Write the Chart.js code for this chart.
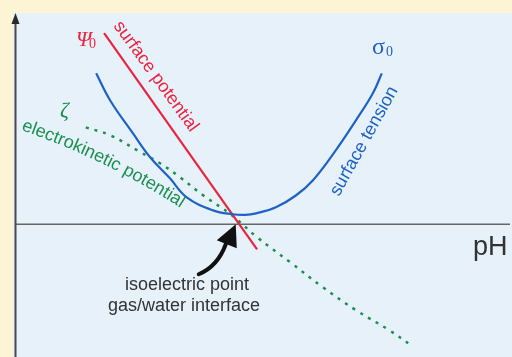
<!DOCTYPE html>
<html>
<head>
<meta charset="utf-8">
<script src="https://cdn.jsdelivr.net/npm/chart.js@4/dist/chart.umd.min.js"></script>
<style>
  html, body { margin: 0; padding: 0; background: #fdf3d5; }
  #wrap { width: 512px; height: 357px; }
</style>
</head>
<body>
<div id="wrap"><canvas id="chart"></canvas></div>
<script>
// pH axis (schematic, no tick labels)
const phMin = 0, phMax = 10;
const valMin = -4.4, valMax = 7.0;
const isoPH = 4.5;

// surface tension sigma0
const tensionPH = [1.64, 1.92, 2.38, 2.73, 3.13, 3.47, 4.00, 4.40, 4.65, 4.87, 5.27, 5.68, 6.02, 6.48, 6.89, 7.23, 7.41];
const tensionVal = [5.00, 4.11, 3.02, 2.22, 1.52, 0.89, 0.46, 0.33, 0.31, 0.36, 0.56, 0.96, 1.46, 2.45, 3.45, 4.34, 5.00];

// surface potential psi0 (straight line)
const potentialPH = [1.80, 4.89];
const potentialVal = [6.33, -0.83];

// electrokinetic potential zeta
const zetaPH = [1.43, 1.92, 2.53, 2.93, 3.33, 3.80, 4.38, 4.89, 5.56, 6.22, 6.89, 7.56, 8.00];
const zetaVal = [3.21, 2.95, 2.39, 2.02, 1.56, 0.96, 0.30, -0.43, -1.26, -2.09, -2.85, -3.51, -4.01];

const RED = "#ea2540", BLUE = "#1f62c6", GREEN = "#1c8f50", DARK = "#333333";

function pts(xs, ys) {
  return xs.map((x, i) => ({ x: x, y: ys[i] }));
}

// texte le long d'une courbe douce (angle qui varie)
function textAlong(ctx, str, x, y, a0, a1) {
  const total = ctx.measureText(str).width;
  let pos = 0;
  for (const ch of str) {
    const cw = ctx.measureText(ch).width;
    const a = (a0 + (a1 - a0) * ((pos + cw / 2) / total)) * Math.PI / 180;
    ctx.save();
    ctx.translate(x, y);
    ctx.rotate(a);
    ctx.fillText(ch, 0, 0);
    ctx.restore();
    x += cw * Math.cos(a);
    y += cw * Math.sin(a);
    pos += cw;
  }
}

const decor = {
  id: "decor",
  beforeDraw(chart) {
    const ctx = chart.ctx;
    ctx.save();
    ctx.fillStyle = "#fdf3d5";
    ctx.fillRect(0, 0, chart.width, chart.height);
    ctx.fillStyle = "#e6f1fa";
    ctx.fillRect(13, 13, chart.width - 13, chart.height - 13);
    ctx.restore();
  },
  beforeDatasetsDraw(chart) {
    const ctx = chart.ctx, a = chart.chartArea;
    const y0 = chart.scales.y.getPixelForValue(0);
    ctx.save();
    // horizontal pH axis
    ctx.strokeStyle = "#666666";
    ctx.lineWidth = 1.5;
    ctx.beginPath();
    ctx.moveTo(a.left, y0);
    ctx.lineTo(a.right, y0);
    ctx.stroke();
    // vertical axis with arrow
    ctx.strokeStyle = "#4a4a4a";
    ctx.lineWidth = 2;
    ctx.beginPath();
    ctx.moveTo(a.left + 0.5, a.bottom);
    ctx.lineTo(a.left + 0.5, a.top + 10);
    ctx.stroke();
    ctx.fillStyle = "#2a2a2a";
    ctx.beginPath();
    ctx.moveTo(a.left + 0.5, a.top);
    ctx.lineTo(a.left + 4.5, a.top + 11);
    ctx.lineTo(a.left - 3.5, a.top + 11);
    ctx.closePath();
    ctx.fill();
    ctx.restore();
  },
  afterDatasetsDraw(chart) {
    const ctx = chart.ctx;
    const tipX = chart.scales.x.getPixelForValue(isoPH) - 2;
    const tipY = chart.scales.y.getPixelForValue(0);
    ctx.save();
    ctx.textBaseline = "alphabetic";
    ctx.font = "18px 'Liberation Sans', Arial, sans-serif";

    // surface potential
    ctx.fillStyle = RED;
    ctx.save();
    ctx.translate(113, 26);
    ctx.rotate(54 * Math.PI / 180);
    ctx.fillText("surface potential", 0, 0);
    ctx.restore();

    // surface tension
    ctx.fillStyle = BLUE;
    ctx.save();
    ctx.translate(339, 197);
    ctx.rotate(-61 * Math.PI / 180);
    ctx.fillText("surface tension", 0, 0);
    ctx.restore();

    // electrokinetic potential
    ctx.fillStyle = GREEN;
    textAlong(ctx, "electrokinetic potential", 21, 130, 19, 33);

    // greek symbols
    ctx.fillStyle = RED;
    ctx.font = "italic 22px 'Liberation Serif', serif";
    ctx.fillText("Ψ", 76, 46);
    ctx.font = "14px 'Liberation Serif', serif";
    ctx.fillText("0", 89, 48);

    ctx.fillStyle = BLUE;
    ctx.font = "24px 'Liberation Serif', serif";
    ctx.fillText("σ", 372, 54);
    ctx.font = "14px 'Liberation Serif', serif";
    ctx.fillText("0", 386, 56);

    ctx.fillStyle = GREEN;
    ctx.font = "italic 22px 'Liberation Serif', serif";
    ctx.fillText("ζ", 60, 117);

    // pH
    ctx.fillStyle = DARK;
    ctx.font = "27px 'Liberation Sans', Arial, sans-serif";
    ctx.fillText("pH", 473, 255);

    // isoelectric point note
    ctx.font = "18px 'Liberation Sans', Arial, sans-serif";
    ctx.textAlign = "center";
    ctx.fillText("isoelectric point", 187, 290);
    ctx.fillText("gas/water interface", 184, 311);

    // curved arrow
    ctx.strokeStyle = "#111";
    ctx.fillStyle = "#111";
    ctx.lineWidth = 4;
    ctx.lineCap = "round";
    ctx.beginPath();
    ctx.moveTo(tipX - 37, tipY + 50);
    ctx.quadraticCurveTo(tipX - 18, tipY + 42, tipX - 10, tipY + 20);
    ctx.stroke();
    ctx.beginPath();
    ctx.moveTo(tipX, tipY);
    ctx.lineTo(tipX - 19, tipY + 16);
    ctx.lineTo(tipX + 1, tipY + 24);
    ctx.closePath();
    ctx.fill();
    ctx.restore();
  }
};

new Chart(document.getElementById("chart"), {
  type: "scatter",
  data: {
    datasets: [
      {
        label: "surface tension",
        data: pts(tensionPH, tensionVal),
        showLine: true,
        borderColor: BLUE,
        borderWidth: 2.2,
        pointRadius: 0,
        tension: 0.4
      },
      {
        label: "surface potential",
        data: pts(potentialPH, potentialVal),
        showLine: true,
        borderColor: RED,
        borderWidth: 2.2,
        pointRadius: 0
      },
      {
        label: "electrokinetic potential",
        data: pts(zetaPH, zetaVal),
        showLine: true,
        borderColor: GREEN,
        borderWidth: 2.5,
        borderDash: [3, 6],
        pointRadius: 0,
        tension: 0.4
      }
    ]
  },
  options: {
    responsive: true,
    maintainAspectRatio: false,
    animation: false,
    devicePixelRatio: 1,
    layout: { padding: { left: 15, right: 2, top: 13, bottom: 0 } },
    plugins: { legend: { display: false }, tooltip: { enabled: false } },
    scales: {
      x: { type: "linear", min: phMin, max: phMax, display: false },
      y: { type: "linear", min: valMin, max: valMax, display: false }
    }
  },
  plugins: [decor]
});
</script>
</body>
</html>
